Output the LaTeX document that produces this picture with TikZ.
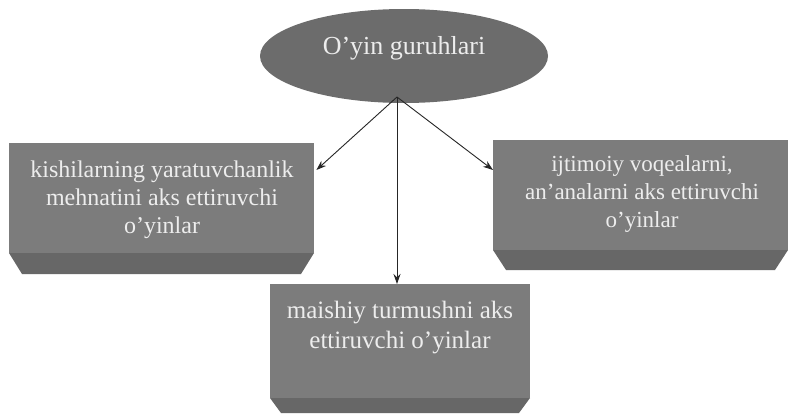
\documentclass[tikz,border=0pt]{standalone}
\usepackage{fontspec}
\setmainfont{Liberation Serif}
\usetikzlibrary{shapes.geometric,arrows.meta,calc}
\definecolor{boxgray}{HTML}{7C7C7C}
\definecolor{bevelgray}{HTML}{676767}
\definecolor{ellgray}{HTML}{6C6C6C}
\definecolor{txtlight}{HTML}{EDEDED}
\tikzset{
  boxshape/.style={draw=none, fill=boxgray, rectangle, inner sep=0pt, anchor=north west},
  bevel/.style={fill=bevelgray, draw=none},
  lbl/.style={text=txtlight, align=center, font=\rmfamily\fontsize{24}{28}\selectfont, inner sep=0pt},
  conn/.style={draw=black!85, line width=0.9pt, -{Stealth[length=10pt,width=7pt]}},
}
\begin{document}
\begin{tikzpicture}[x=1pt,y=-1pt]
\useasboundingbox (0,0) rectangle (796,415);
\fill[white] (0,0) rectangle (796,415);
% top ellipse
\node[ellipse, fill=ellgray, minimum width=288pt, minimum height=94pt, inner sep=0pt] (top) at (404,56) {};
\node[lbl, font=\rmfamily\fontsize{26}{28}\selectfont] (toptxt) at (404,48) {O’yin guruhlari};
% left box
\node[boxshape, minimum width=305pt, minimum height=110pt] (lbox) at (9,143) {};
\fill[bevel] (9,253) -- (314,253) -- (301,274) -- (22,274) -- cycle;
\node[lbl] (ltxt) at (162,200) {kishilarning yaratuvchanlik\\mehnatini aks ettiruvchi\\o’yinlar};
% right box
\node[boxshape, minimum width=295pt, minimum height=110pt] (rbox) at (493,140) {};
\fill[bevel] (493,250) -- (788,250) -- (775,270) -- (506,270) -- cycle;
\node[lbl, font=\rmfamily\fontsize{23}{28}\selectfont] (rtxt) at (642,194) {ijtimoiy voqealarni,\\an’analarni aks ettiruvchi\\o’yinlar};
% bottom box
\node[boxshape, minimum width=260pt, minimum height=114pt] (bbox) at (270,284) {};
\fill[bevel] (270,398) -- (530,398) -- (519,413) -- (281,413) -- cycle;
\node[lbl, font=\rmfamily\fontsize{25}{30}\selectfont] (btxt) at (400,328) {maishiy turmushni aks\\ettiruvchi o’yinlar};
% connectors
\coordinate (src) at (397,97);
\draw[conn] (src) -- ($(lbox.north east)+(2,27)$);
\draw[conn] (src) -- ($(rbox.north west)+(0,30)$);
\draw[conn] (src) -- (src |- bbox.north);
\end{tikzpicture}
\end{document}
